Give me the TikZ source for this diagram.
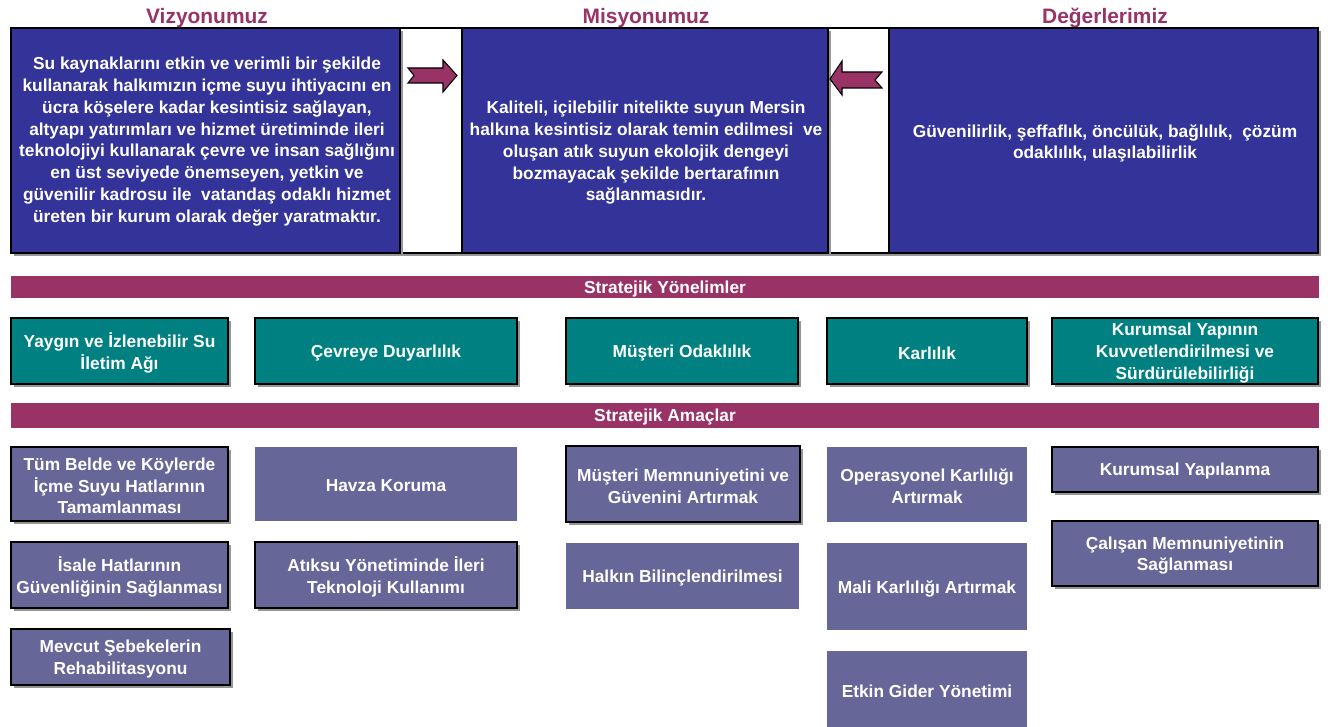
\documentclass[tikz,border=0pt]{standalone}
\usepackage{fontspec}
\setmainfont{Liberation Sans}
\usetikzlibrary{shadows}
\definecolor{vblue}{RGB}{51,51,153}
\definecolor{vteal}{RGB}{0,128,128}
\definecolor{vpurple}{RGB}{102,102,153}
\definecolor{vmag}{RGB}{153,51,102}
\definecolor{vshadow}{RGB}{150,150,150}
\def\pxu{*0.75pt}
\tikzset{
  txt/.style={font=\fontsize{13}{16.3}\selectfont\bfseries, text=white, align=center, inner sep=0pt},
  title/.style={font=\fontsize{15.7}{18}\selectfont\bfseries, text=vmag, inner sep=0pt},
  boxbase/.style={anchor=north west, inner sep=0pt, outer sep=0pt},
  shd/.style={drop shadow={shadow xshift=2.25pt, shadow yshift=-2.25pt, fill=vshadow, opacity=1}},
  brd/.style={draw=black, line width=0.9pt},
  framebox/.style={boxbase, fill=white, brd, shd},
  bluebox/.style={boxbase, fill=vblue, brd, shd},
  tealbox/.style={boxbase, fill=vteal, brd, shd, minimum height=66\pxu},
  goalbox/.style={boxbase, fill=vpurple, brd, shd},
  plaingoal/.style={boxbase, fill=vpurple},
  bar/.style={boxbase, fill=vmag},
  blockarrow/.style={fill=vmag, draw=black, line width=0.8pt, line join=miter}
}
\newcommand\boxtext[2]{\node[txt] (#1t) at ([yshift=-1.5pt]#1.center) {#2};}
\begin{document}
\begin{tikzpicture}[x=0.75pt,y=-0.75pt]
\useasboundingbox (0,0) rectangle (1338,727);

% titles
\node[title] (tv) at (207,18) {Vizyonumuz};
\node[title] (tm) at (646,18) {Misyonumuz};
\node[title] (td) at (1105,18) {Değerlerimiz};

% top frame and boxes
\node[framebox, minimum width=1307\pxu, minimum height=225\pxu] (frame) at (11,28) {};
\node[bluebox, minimum width=389\pxu, minimum height=225\pxu] (viz) at (11,28) {};
\node[bluebox, minimum width=366\pxu, minimum height=225\pxu] (mis) at (462,28) {};
\node[bluebox, minimum width=429\pxu, minimum height=225\pxu] (deg) at (889,28) {};

\node[txt] (vizt) at (207,141.5) {Su kaynaklarını etkin ve verimli bir şekilde\\
kullanarak halkımızın içme suyu ihtiyacını en\\
ücra köşelere kadar kesintisiz sağlayan,\\
altyapı yatırımları ve hizmet üretiminde ileri\\
teknolojiyi kullanarak çevre ve insan sağlığını\\
en üst seviyede önemseyen, yetkin ve\\
güvenilir kadrosu ile~ vatandaş odaklı hizmet\\
üreten bir kurum olarak değer yaratmaktır.};

\node[txt] (mist) at (646,153) {Kaliteli, içilebilir nitelikte suyun Mersin\\
halkına kesintisiz olarak temin edilmesi~ ve\\
oluşan atık suyun ekolojik dengeyi\\
bozmayacak şekilde bertarafının\\
sağlanmasıdır.};

\node[txt] (degt) at (1105,143.5) {Güvenilirlik, şeffaflık, öncülük, bağlılık,~ çözüm\\
odaklılık, ulaşılabilirlik};

% block arrows
\draw[blockarrow] (408,68) -- (443,68) -- (443,60) -- (457,75.5) -- (443,92) -- (443,83) -- (408,83) -- (414,75.5) -- cycle;
\draw[blockarrow] (882,72) -- (842,72) -- (842,61) -- (830,79) -- (842,95) -- (842,88) -- (882,88) -- (875,80) -- cycle;

% bars
\node[bar, minimum width=1308\pxu, minimum height=22\pxu] (bar1) at (11,276) {};
\boxtext{bar1}{Stratejik Yönelimler}
\node[bar, minimum width=1308\pxu, minimum height=25\pxu] (bar2) at (11,403) {};
\boxtext{bar2}{Stratejik Amaçlar}

% strategic directions
\node[tealbox, minimum width=217\pxu] (t1) at (11,318) {};
\boxtext{t1}{Yaygın ve İzlenebilir Su\\İletim Ağı}
\node[tealbox, minimum width=262\pxu] (t2) at (255,318) {};
\boxtext{t2}{Çevreye Duyarlılık}
\node[tealbox, minimum width=232\pxu] (t3) at (566,318) {};
\boxtext{t3}{Müşteri Odaklılık}
\node[tealbox, minimum width=200\pxu] (t4) at (827,318) {};
\boxtext{t4}{Karlılık}
\node[tealbox, minimum width=266\pxu] (t5) at (1052,318) {};
\boxtext{t5}{Kurumsal Yapının\\Kuvvetlendirilmesi ve\\Sürdürülebilirliği}

% strategic goals
\node[goalbox, minimum width=217\pxu, minimum height=74\pxu] (a1) at (11,447) {};
\boxtext{a1}{Tüm Belde ve Köylerde\\İçme Suyu Hatlarının\\Tamamlanması}
\node[goalbox, minimum width=217\pxu, minimum height=66\pxu] (a2) at (11,542) {};
\boxtext{a2}{İsale Hatlarının\\Güvenliğinin Sağlanması}
\node[goalbox, minimum width=219\pxu, minimum height=56\pxu] (a3) at (11,629) {};
\boxtext{a3}{Mevcut Şebekelerin\\Rehabilitasyonu}
\node[plaingoal, minimum width=262\pxu, minimum height=74\pxu] (a4) at (255,447) {};
\boxtext{a4}{Havza Koruma}
\node[goalbox, minimum width=262\pxu, minimum height=66\pxu] (a5) at (255,542) {};
\boxtext{a5}{Atıksu Yönetiminde İleri\\Teknoloji Kullanımı}
\node[goalbox, minimum width=234\pxu, minimum height=76\pxu] (a6) at (566,446) {};
\boxtext{a6}{Müşteri Memnuniyetini ve\\Güvenini Artırmak}
\node[plaingoal, minimum width=233\pxu, minimum height=66\pxu] (a7) at (566,543) {};
\boxtext{a7}{Halkın Bilinçlendirilmesi}
\node[plaingoal, minimum width=200\pxu, minimum height=75\pxu] (a8) at (827,447) {};
\boxtext{a8}{Operasyonel Karlılığı\\Artırmak}
\node[plaingoal, minimum width=200\pxu, minimum height=87\pxu] (a9) at (827,543) {};
\boxtext{a9}{Mali Karlılığı Artırmak}
\node[plaingoal, minimum width=200\pxu, minimum height=76\pxu] (a10) at (827,651) {};
\boxtext{a10}{Etkin Gider Yönetimi}
\node[goalbox, minimum width=266\pxu, minimum height=45\pxu] (a11) at (1052,447) {};
\boxtext{a11}{Kurumsal Yapılanma}
\node[goalbox, minimum width=266\pxu, minimum height=65\pxu] (a12) at (1052,521) {};
\boxtext{a12}{Çalışan Memnuniyetinin\\Sağlanması}
\end{tikzpicture}
\end{document}
